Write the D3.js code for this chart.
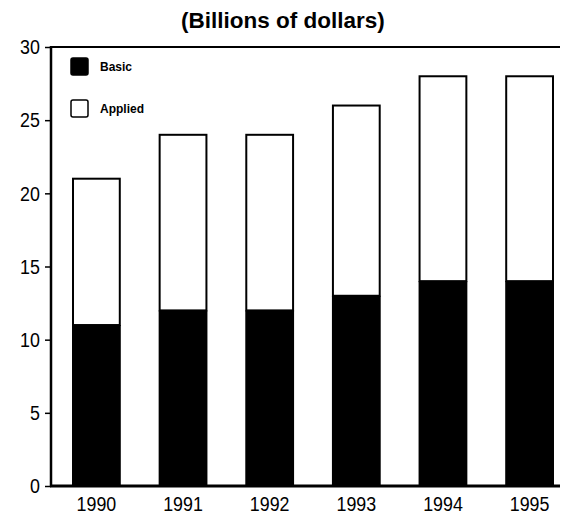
<!DOCTYPE html>
<html>
<head>
<meta charset="utf-8">
<script src="https://cdn.jsdelivr.net/npm/d3@7"></script>
<style>
  body { margin: 0; background: #fff; }
  text { font-family: "Liberation Sans", Arial, sans-serif; }
</style>
</head>
<body>
<svg id="chart" width="564" height="524"></svg>
<script>
const years = ['1990', '1991', '1992', '1993', '1994', '1995']
const basic = [11, 12, 12, 13, 14, 14]
const applied = [10, 12, 12, 13, 14, 14]
const yTicks = [0, 5, 10, 15, 20, 25, 30]
const seriesNames = ['Basic', 'Applied']

const svg = d3.select('#chart')
const plotLeft = 51, plotRight = 560, plotTop = 47, plotBottom = 486

const x = d3.scaleBand().domain(years).range([51, 575]).paddingInner(0.46).paddingOuter(0.254)
const y = d3.scaleLinear().domain([0, 30]).range([plotBottom, plotTop])

// title
svg.append('text')
  .attr('x', 283).attr('y', 28)
  .attr('text-anchor', 'middle')
  .attr('font-size', 22.5).attr('font-weight', 'bold')
  .text('(Billions of dollars)')

// stacked bars
const rows = years.map((yr, i) => ({ year: yr, basic: basic[i], applied: applied[i] }))
const g = svg.append('g')
g.selectAll('.applied').data(rows).enter().append('rect')
  .attr('x', d => x(d.year))
  .attr('y', d => y(d.basic + d.applied))
  .attr('width', x.bandwidth())
  .attr('height', d => y(d.basic) - y(d.basic + d.applied))
  .attr('fill', '#fff').attr('stroke', '#000').attr('stroke-width', 2)
g.selectAll('.basic').data(rows).enter().append('rect')
  .attr('x', d => x(d.year) - 1)
  .attr('y', d => y(d.basic))
  .attr('width', x.bandwidth() + 2)
  .attr('height', d => y(0) - y(d.basic))
  .attr('fill', '#000')

// frame
svg.append('line').attr('x1', plotLeft).attr('x2', plotRight).attr('y1', plotTop).attr('y2', plotTop)
  .attr('stroke', '#000').attr('stroke-width', 2)
svg.append('line').attr('x1', plotLeft).attr('x2', plotLeft).attr('y1', plotTop - 1).attr('y2', plotBottom)
  .attr('stroke', '#000').attr('stroke-width', 2.5)
svg.append('line').attr('x1', plotLeft - 1).attr('x2', plotRight).attr('y1', plotBottom).attr('y2', plotBottom)
  .attr('stroke', '#000').attr('stroke-width', 3)

// y axis (condensed digits)
const yAxis = svg.append('g').attr('transform', `translate(${plotLeft},0)`)
  .call(d3.axisLeft(y).tickValues(yTicks).tickSize(6).tickPadding(7))
yAxis.select('.domain').remove()
yAxis.selectAll('line').attr('stroke-width', 1.5)
yAxis.selectAll('text').attr('font-size', 21).attr('fill', '#000')
  .attr('transform', 'scale(0.85,1)')

// x axis labels
const xAxis = svg.append('g').attr('transform', `translate(0,${plotBottom})`)
  .call(d3.axisBottom(x).tickSize(0).tickPadding(10))
xAxis.select('.domain').remove()
xAxis.selectAll('text').attr('font-size', 21).attr('fill', '#000')
  .attr('transform', 'scale(0.85,1)')

// legend
const legend = svg.append('g')
seriesNames.forEach((name, i) => {
  const ly = 58 + i * 42
  legend.append('rect').attr('x', 71).attr('y', ly).attr('width', 17).attr('height', 17).attr('rx', 2)
    .attr('fill', i === 0 ? '#000' : '#fff').attr('stroke', '#000').attr('stroke-width', 1.5)
  legend.append('text').attr('x', 100).attr('y', ly + 13)
    .attr('font-size', 12).attr('font-weight', 'bold')
    .text(name)
})
</script>
</body>
</html>
